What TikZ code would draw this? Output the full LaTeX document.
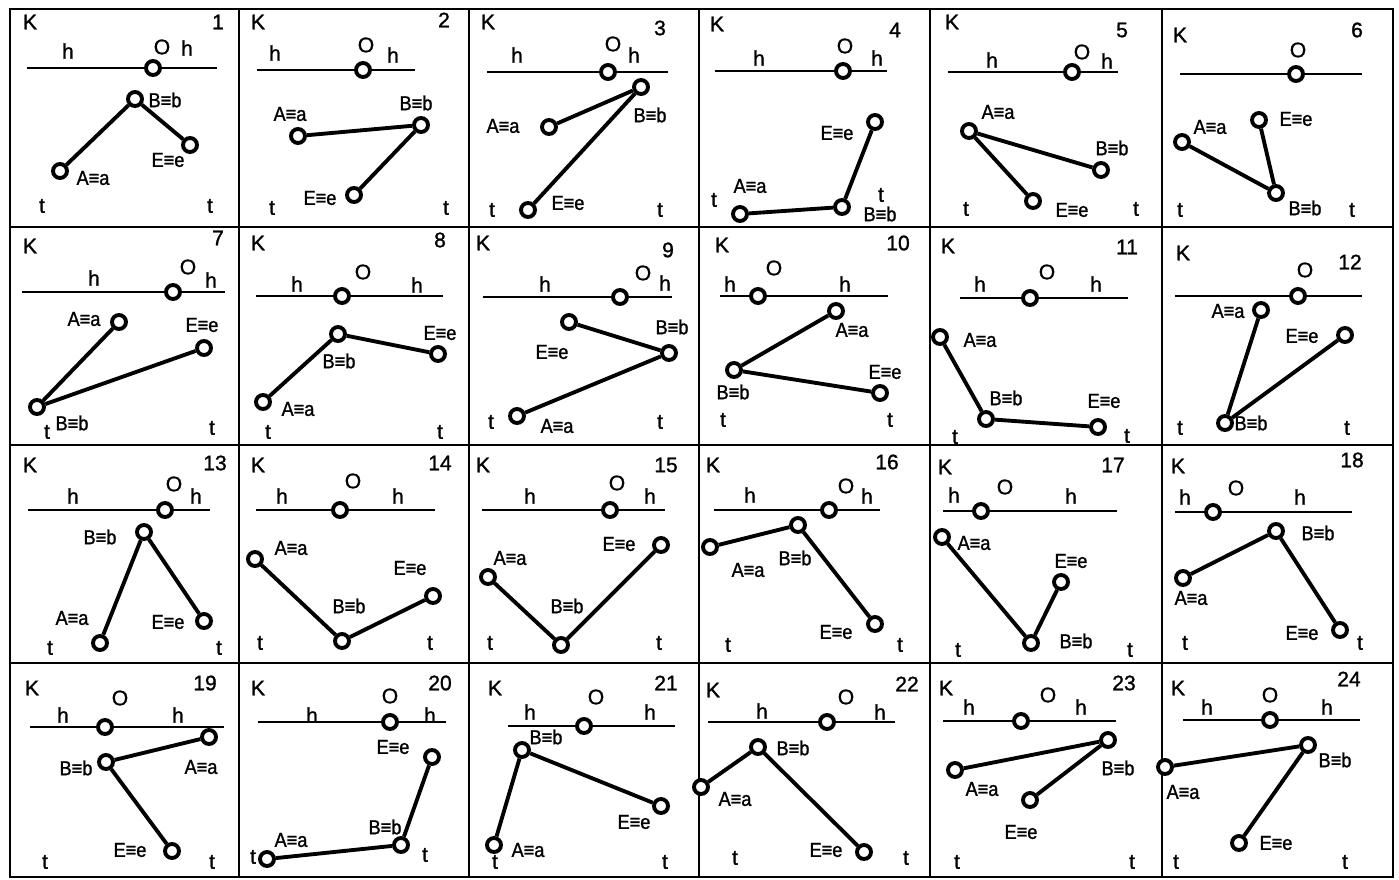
\documentclass[tikz,border=0pt]{standalone}
\usepackage{fontspec}
\setmainfont{Liberation Sans}
\newfontfamily\scanfont[FakeBold=1.2]{Liberation Sans}
\newfontfamily\narrowfont[FakeStretch=0.9, FakeBold=1.2]{Liberation Sans}

\begin{document}
\begin{tikzpicture}[
    x=0.02cm, y=-0.02cm,
    frame/.style={line width=1.3pt},
    hline/.style={line width=1.4pt},
    seg/.style={line width=2.2pt},
    pt/.style={circle, draw, fill=white, line width=2.2pt, inner sep=0pt,
               minimum size=0.28cm},
    tx/.style={inner sep=0pt, font=\scanfont\fontsize{12}{14}\selectfont},
    lb/.style={inner sep=0pt, font=\narrowfont\fontsize{11.5}{13}\selectfont}
  ]
  \useasboundingbox (0,0) rectangle (1399,879);

  % Table grid
  \draw[frame] (10,9) rectangle (1393,877);
  \foreach \x in {239,469,699,930,1162}
    \draw[frame] (\x,9) -- (\x,877);
  \foreach \y in {227,445,663}
    \draw[frame] (10,\y) -- (1393,\y);

  % K and task number
  \foreach \n/\kx/\ky/\nx/\ny in {
    1/30/22/218/22, 2/258/22/444/20, 3/488/22/660/28, 4/717/24/895/30,
    5/952/22/1122/30, 6/1180/35/1357/30,
    7/30/246/218/238, 8/258/243/440/240, 9/483/243/668/250,
    10/722/245/898/243, 11/948/246/1127/247, 12/1183/253/1350/262,
    13/30/465/215/463, 14/258/465/440/463, 15/483/465/666/465,
    16/713/465/887/462, 17/945/467/1113/465, 18/1178/466/1352/460,
    19/32/688/205/683, 20/258/688/440/683, 21/495/688/666/683,
    22/713/690/907/684, 23/946/688/1124/683, 24/1178/688/1349/679} {
    \node[tx] (k\n) at (\kx,\ky) {K};
    \node[tx] (n\n) at (\nx,\ny) {\n};
  }

  % Horizon h-h with point O
  \foreach \n/\xa/\xb/\y/\ox/\lx/\ly in {
    1/27/217/68/153/162/47, 2/257/415/70/363/366/45,
    3/487/668/72/608/613/44, 4/715/887/71/843/845/46,
    5/948/1118/72/1072/1082/52, 6/1180/1362/74/1296/1298/50,
    7/22/225/292/173/188/267, 8/256/443/296/342/363/272,
    9/483/672/297/620/643/273, 10/720/888/296/758/774/268,
    11/960/1128/298/1030/1047/272, 12/1175/1362/296/1298/1305/270,
    13/28/210/510/165/174/484, 14/256/435/510/340/353/481,
    15/482/665/510/610/617/483, 16/714/880/510/829/846/486,
    17/943/1117/511/981/1005/487, 18/1175/1352/512/1213/1236/488,
    19/30/224/727/105/120/698, 20/258/446/722/390/390/696,
    21/508/675/726/584/596/697, 22/708/895/722/827/846/697,
    23/943/1116/721/1021/1048/695, 24/1183/1360/720/1270/1270/695} {
    \coordinate (hl\n) at (\xa,\y);
    \coordinate (hr\n) at (\xb,\y);
    \draw[hline] (hl\n) -- (hr\n);
    \node[pt] (O\n) at (\ox,\y) {};
    \node[tx] (o\n) at (\lx,\ly) {O};
  }

  % h labels
  \foreach \x/\y [count=\i] in {
    68/51, 187/48, 275/53, 393/55, 517/55, 634/55, 759/58, 877/58,
    992/60, 1107/61, 94/278, 211/280, 297/284, 417/285, 545/284, 665/283,
    730/284, 845/284, 980/284, 1096/284, 73/496, 196/496, 282/496, 398/496,
    530/496, 650/496, 750/495, 867/496, 954/495, 1071/496, 1185/497, 1300/497,
    63/715, 178/715, 312/715, 430/715, 530/712, 650/712, 762/711, 880/712,
    969/707, 1081/707, 1207/707, 1327/707}
    \node[tx] (h\i) at (\x,\y) {h};

  % Points A, B, E and the two links
  \foreach \n/\ax/\ay/\bx/\by/\ex/\ey/\hub in {
    1/60/171/135/99/190/145/B, 2/298/136/421/125/354/195/B,
    3/549/127/641/87/528/210/B, 4/740/214/842/207/875/122/B,
    5/969/131/1101/170/1033/201/A, 6/1182/142/1276/193/1259/120/B,
    7/119/322/37/407/204/348/B, 8/263/402/338/334/438/354/B,
    9/517/416/669/353/569/322/B, 10/836/311/734/370/880/393/B,
    11/940/337/986/419/1098/427/B, 12/1261/310/1225/423/1345/335/B,
    13/100/643/144/532/204/621/B, 14/255/559/342/641/433/596/B,
    15/488/577/561/645/661/545/B, 16/710/547/798/525/875/624/B,
    17/942/537/1031/643/1061/582/B, 18/1183/578/1276/531/1340/630/B,
    19/209/737/106/762/172/851/B, 20/267/859/401/845/432/757/B,
    21/494/845/522/750/661/806/B, 22/701/787/758/747/864/852/B,
    23/955/770/1108/740/1030/800/B, 24/1165/767/1308/745/1239/843/B} {
    \node[pt] (A\n) at (\ax,\ay) {};
    \node[pt] (B\n) at (\bx,\by) {};
    \node[pt] (E\n) at (\ex,\ey) {};
    \draw[seg] (A\n) -- (B\n);
    \draw[seg] (E\n) -- (\hub\n);
  }

  % Point labels
  \foreach \n/\ax/\ay/\bx/\by/\ex/\ey in {
    1/93/178/165/100/168/160, 2/290/114/416/103/320/198,
    3/503/126/650/115/568/203, 4/750/186/880/214/837/133,
    5/998/112/1112/148/1072/210, 6/1210/127/1305/208/1296/119,
    7/84/319/72/423/202/325, 8/298/409/339/361/440/333,
    9/557/426/672/327/552/352, 10/852/330/733/392/885/372,
    11/980/340/1006/398/1104/401, 12/1228/311/1251/423/1302/336,
    13/72/618/100/537/168/622, 14/291/548/349/606/410/568,
    15/510/558/567/606/619/544, 16/748/570/795/558/836/632,
    17/974/543/1076/641/1071/561, 18/1191/598/1318/533/1302/633,
    19/201/767/76/768/130/850, 20/291/840/385/827/393/747,
    21/528/850/546/737/634/822, 22/735/799/793/748/826/850,
    23/982/789/1118/768/1021/832, 24/1183/792/1335/760/1276/843} {
    \node[lb] (a\n) at (\ax,\ay) {A≡a};
    \node[lb] (b\n) at (\bx,\by) {B≡b};
    \node[lb] (e\n) at (\ex,\ey) {E≡e};
  }

  % t marks
  \foreach \x/\y [count=\i] in {
    42/206, 210/206, 272/208, 446/208, 492/210, 660/210, 714/200, 881/195,
    966/209, 1136/209, 1180/210, 1352/210, 47/432, 212/428, 268/432, 440/432,
    491/422, 660/422, 723/420, 890/420, 955/437, 1127/436, 1180/428, 1347/428,
    50/648, 219/648, 260/643, 430/643, 490/643, 659/643, 728/645, 900/645,
    958/650, 1130/650, 1185/643, 1360/643, 45/862, 212/862, 253/857, 425/855,
    495/862, 665/862, 735/858, 906/858, 957/862, 1132/862, 1176/862, 1345/862}
    \node[tx] (t\i) at (\x,\y) {t};
\end{tikzpicture}
\end{document}
